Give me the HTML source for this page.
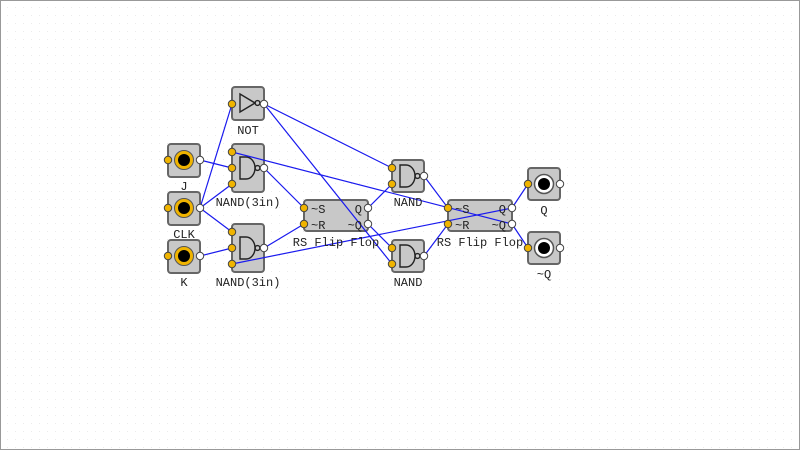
<!DOCTYPE html>
<html><head><meta charset="utf-8"><style>
html,body{margin:0;padding:0;background:#fff}
svg{display:block}
text{font-family:"Liberation Mono",monospace;fill:#222}
</style></head><body>
<svg width="800" height="450" viewBox="0 0 800 450" xmlns="http://www.w3.org/2000/svg">
<defs>
<pattern id="g" width="8" height="8" patternUnits="userSpaceOnUse"><rect x="7.5" y="7.5" width="1.2" height="1.2" fill="#b0b0b0"/></pattern>
</defs>
<rect width="800" height="450" fill="#fff"/>
<rect width="800" height="450" fill="url(#g)"/>
<rect x="0.5" y="0.5" width="799" height="449" fill="none" stroke="#999"/>
<g fill="#c8c8c8" stroke="#666" stroke-width="2">
<rect x="232" y="87" width="32" height="33" rx="3"/>
<rect x="168" y="144" width="32" height="33" rx="3"/>
<rect x="168" y="192" width="32" height="33" rx="3"/>
<rect x="168" y="240" width="32" height="33" rx="3"/>
<rect x="232" y="144" width="32" height="48" rx="3"/>
<rect x="232" y="224" width="32" height="48" rx="3"/>
<rect x="304" y="200" width="64" height="31" rx="3"/>
<rect x="392" y="160" width="32" height="32" rx="3"/>
<rect x="392" y="240" width="32" height="32" rx="3"/>
<rect x="448" y="200" width="64" height="31" rx="3"/>
<rect x="528" y="168" width="32" height="32" rx="3"/>
<rect x="528" y="232" width="32" height="32" rx="3"/>
</g>
<g>
<circle cx="184" cy="160" r="9.5" fill="#f0b400" stroke="#555"/><circle cx="184" cy="160" r="6" fill="#000"/>
<circle cx="184" cy="208" r="9.5" fill="#f0b400" stroke="#555"/><circle cx="184" cy="208" r="6" fill="#000"/>
<circle cx="184" cy="256" r="9.5" fill="#f0b400" stroke="#555"/><circle cx="184" cy="256" r="6" fill="#000"/>
<circle cx="544" cy="184" r="9.5" fill="#fff" stroke="#555" stroke-width="1.5"/><circle cx="544" cy="184" r="6" fill="#000"/>
<circle cx="544" cy="248" r="9.5" fill="#fff" stroke="#555" stroke-width="1.5"/><circle cx="544" cy="248" r="6" fill="#000"/>
</g>
<g fill="none" stroke="#222" stroke-width="1.4">
<path d="M240 94 L255 103 L240 112 Z"/><circle cx="257.5" cy="103" r="2.4"/>
<path d="M240 157 L246 157 A9 11 0 0 1 246 179 L240 179 Z"/><circle cx="257.5" cy="168" r="2.4"/>
<path d="M240 237 L246 237 A9 11 0 0 1 246 259 L240 259 Z"/><circle cx="257.5" cy="248" r="2.4"/>
<path d="M400 165 L406 165 A9 11 0 0 1 406 187 L400 187 Z"/><circle cx="417.5" cy="176" r="2.4"/>
<path d="M400 245 L406 245 A9 11 0 0 1 406 267 L400 267 Z"/><circle cx="417.5" cy="256" r="2.4"/>
</g>
<g stroke="#1a1aee" stroke-width="1.2" fill="none">
<line x1="200" y1="208" x2="232" y2="104"/>
<line x1="200" y1="208" x2="232" y2="184"/>
<line x1="200" y1="208" x2="232" y2="232"/>
<line x1="200" y1="160" x2="232" y2="168"/>
<line x1="200" y1="256" x2="232" y2="248"/>
<line x1="264" y1="168" x2="304" y2="208"/>
<line x1="264" y1="248" x2="304" y2="224"/>
<line x1="264" y1="104" x2="392" y2="168"/>
<line x1="264" y1="104" x2="392" y2="264"/>
<line x1="368" y1="208" x2="392" y2="184"/>
<line x1="368" y1="224" x2="392" y2="248"/>
<line x1="424" y1="176" x2="448" y2="208"/>
<line x1="424" y1="256" x2="448" y2="224"/>
<line x1="512" y1="208" x2="528" y2="184"/>
<line x1="512" y1="224" x2="528" y2="248"/>
<line x1="232" y1="152" x2="512" y2="224"/>
<line x1="232" y1="264" x2="512" y2="208"/>
</g>
<g stroke="#444" stroke-width="1">
<g fill="#f0b400">
<circle cx="232" cy="104" r="3.7"/><circle cx="168" cy="160" r="3.7"/><circle cx="168" cy="208" r="3.7"/><circle cx="168" cy="256" r="3.7"/>
<circle cx="232" cy="152" r="3.7"/><circle cx="232" cy="168" r="3.7"/><circle cx="232" cy="184" r="3.7"/>
<circle cx="232" cy="232" r="3.7"/><circle cx="232" cy="248" r="3.7"/><circle cx="232" cy="264" r="3.7"/>
<circle cx="304" cy="208" r="3.7"/><circle cx="304" cy="224" r="3.7"/>
<circle cx="392" cy="168" r="3.7"/><circle cx="392" cy="184" r="3.7"/>
<circle cx="392" cy="248" r="3.7"/><circle cx="392" cy="264" r="3.7"/>
<circle cx="448" cy="208" r="3.7"/><circle cx="448" cy="224" r="3.7"/>
<circle cx="528" cy="184" r="3.7"/><circle cx="528" cy="248" r="3.7"/>
</g>
<g fill="#fff">
<circle cx="264" cy="104" r="3.7"/><circle cx="200" cy="160" r="3.7"/><circle cx="200" cy="208" r="3.7"/><circle cx="200" cy="256" r="3.7"/>
<circle cx="264" cy="168" r="3.7"/><circle cx="264" cy="248" r="3.7"/>
<circle cx="368" cy="208" r="3.7"/><circle cx="368" cy="224" r="3.7"/>
<circle cx="424" cy="176" r="3.7"/><circle cx="424" cy="256" r="3.7"/>
<circle cx="512" cy="208" r="3.7"/><circle cx="512" cy="224" r="3.7"/>
<circle cx="560" cy="184" r="3.7"/><circle cx="560" cy="248" r="3.7"/>
</g>
</g>
<g font-size="12">
<text x="311" y="213">~S</text><text x="311" y="229">~R</text>
<text x="362" y="213" text-anchor="end">Q</text><text x="362" y="229" text-anchor="end">~Q</text>
<text x="455" y="213">~S</text><text x="455" y="229">~R</text>
<text x="506" y="213" text-anchor="end">Q</text><text x="506" y="229" text-anchor="end">~Q</text>
</g>
<g font-size="12" text-anchor="middle">
<text x="248" y="134">NOT</text>
<text x="184" y="190">J</text>
<text x="184" y="238">CLK</text>
<text x="184" y="286">K</text>
<text x="248" y="206">NAND(3in)</text>
<text x="248" y="286">NAND(3in)</text>
<text x="336" y="246">RS Flip Flop</text>
<text x="408" y="206">NAND</text>
<text x="408" y="286">NAND</text>
<text x="480" y="246">RS Flip Flop</text>
<text x="544" y="214">Q</text>
<text x="544" y="278">~Q</text>
</g>
</svg>
</body></html>
